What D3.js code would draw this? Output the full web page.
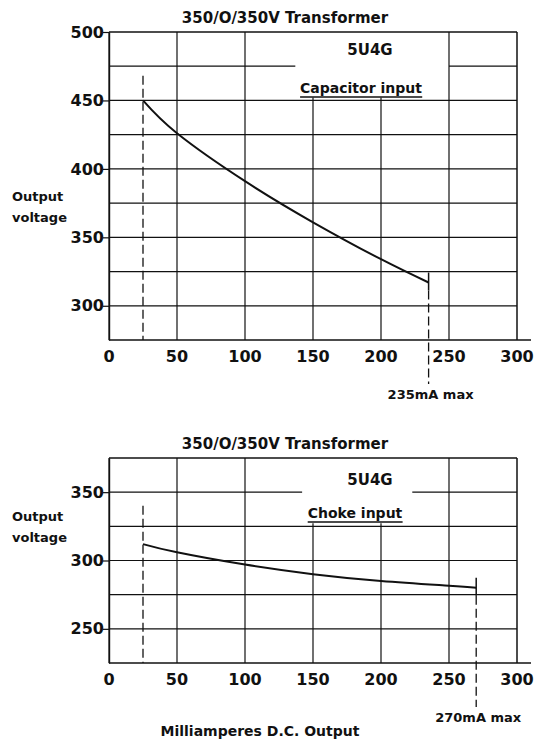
<!DOCTYPE html>
<html>
<head>
<meta charset="utf-8">
<script src="https://cdn.jsdelivr.net/npm/d3@7"></script>
<style>
  body { margin: 0; background: #fff; }
  text { font-family: "DejaVu Sans", sans-serif; fill: #111; }
</style>
</head>
<body>
<div id="chart"></div>
<script>
// values
var xTicks = [0, 50, 100, 150, 200, 250, 300];

var capTicks = [300, 350, 400, 450, 500];
var capMa = [25, 50, 100, 150, 200, 235];
var capV  = [450, 426, 391, 361, 334, 317];

var chokeTicks = [250, 300, 350];
var chokeMa = [25, 50, 100, 150, 200, 250, 270];
var chokeV  = [312, 306, 297, 290, 285, 281.5, 280];

var W = 535, H = 747;

var svg = d3.select("#chart").append("svg")
    .attr("width", W)
    .attr("height", H);

var x = d3.scaleLinear().domain([0, 300]).range([109, 517]);

function drawChart(c) {
  var y = d3.scaleLinear().domain(c.domain).range(c.range);
  var g = svg.append("g");
  var ink = "#111";

  function hline(v, a, b, w) {
    g.append("line").attr("x1", x(a)).attr("x2", x(b))
      .attr("y1", y(v)).attr("y2", y(v)).attr("stroke", ink).attr("stroke-width", w || 1.2);
  }

  // horizontal grid every 25 V
  d3.range(c.domain[0] + 25, c.domain[1], 25).forEach(function(v) {
    if (v === c.gapAt) {
      hline(v, 0, c.gap[0]);
      hline(v, c.gap[1], 300);
    } else {
      hline(v, 0, 300);
    }
  });
  // top border
  hline(c.domain[1], 0, 300, 1.6);

  // vertical grid
  xTicks.forEach(function(t) {
    var top = (t === 150 || t === 200) ? y(c.vStart) - 3 : y(c.domain[1]);
    g.append("line").attr("x1", x(t)).attr("x2", x(t))
      .attr("y1", top).attr("y2", y(c.domain[0]))
      .attr("stroke", ink).attr("stroke-width", t === 300 ? 1.5 : 1.2);
  });

  // x axis line runs a little past the frame
  g.append("line").attr("x1", x(0)).attr("x2", x(300) + 14)
    .attr("y1", y(c.domain[0])).attr("y2", y(c.domain[0]))
    .attr("stroke", ink).attr("stroke-width", 1.4);

  // y axis
  var yAxis = d3.axisLeft(y).tickValues(c.ticks).tickSize(6).tickSizeOuter(0).tickFormat(function(d) { return d; });
  var ya = g.append("g").attr("transform", "translate(" + x(0) + ",0)").call(yAxis);
  ya.select(".domain").attr("stroke", ink).attr("stroke-width", 1.4);
  ya.selectAll(".tick line").attr("stroke", ink).attr("stroke-width", 1.2);
  ya.selectAll(".tick text").attr("font-size", 16).attr("font-weight", "bold").attr("x", -5)
    .style("font-family", "DejaVu Sans").attr("fill", ink);

  // x labels
  g.selectAll(".xl").data(xTicks).enter().append("text")
    .attr("x", function(d) { return x(d); })
    .attr("y", y(c.domain[0]) + 22)
    .attr("text-anchor", "middle")
    .attr("font-size", 16).attr("font-weight", "bold")
    .text(function(d) { return d; });

  // dashed line at 25 mA
  g.append("line").attr("x1", x(25)).attr("x2", x(25))
    .attr("y1", y(c.dash25Top)).attr("y2", y(c.domain[0]))
    .attr("stroke", ink).attr("stroke-width", 1.3).attr("stroke-dasharray", "9,4");

  // curve
  var pts = c.ma.map(function(m, i) { return [m, c.v[i]]; });
  g.append("path").datum(pts)
    .attr("fill", "none").attr("stroke", ink).attr("stroke-width", 2)
    .attr("d", d3.line().x(function(d) { return x(d[0]); }).y(function(d) { return y(d[1]); }).curve(d3.curveNatural));

  // max marker: solid tick at curve end then dashed drop below the axis
  var mx = c.ma[c.ma.length - 1], mv = c.v[c.v.length - 1];
  g.append("line").attr("x1", x(mx)).attr("x2", x(mx))
    .attr("y1", y(mv) - 10).attr("y2", y(mv) + 8)
    .attr("stroke", ink).attr("stroke-width", 1.5);
  g.append("line").attr("x1", x(mx)).attr("x2", x(mx))
    .attr("y1", y(mv) + 8).attr("y2", y(c.domain[0]) + 44)
    .attr("stroke", ink).attr("stroke-width", 1.3).attr("stroke-dasharray", "9,4");
  g.append("text").attr("x", x(mx) + 2).attr("y", y(c.domain[0]) + 59)
    .attr("text-anchor", "middle").attr("font-size", 13).attr("font-weight", "bold")
    .text(c.maxLabel);

  // titles and notes
  g.append("text").attr("x", 285).attr("y", y(c.domain[1]) - 9)
    .attr("text-anchor", "middle").attr("font-size", 15).attr("font-weight", "bold")
    .text("350/O/350V Transformer");
  g.append("text").attr("x", 370).attr("y", y(c.domain[1]) + c.tagDy)
    .attr("text-anchor", "middle").attr("font-size", 15).attr("font-weight", "bold")
    .text("5U4G");
  var note = g.append("text").attr("x", c.noteX).attr("y", c.noteY)
    .attr("text-anchor", "middle").attr("font-size", 14).attr("font-weight", "bold")
    .text(c.note);
  var bb = note.node().getBBox();
  g.append("line").attr("x1", bb.x).attr("x2", bb.x + bb.width)
    .attr("y1", c.noteY + 4).attr("y2", c.noteY + 4)
    .attr("stroke", ink).attr("stroke-width", 1.5);

  g.append("text").attr("x", 12).attr("y", c.outY).attr("font-size", 13).attr("font-weight", "bold").text("Output");
  g.append("text").attr("x", 12).attr("y", c.outY + 21).attr("font-size", 13).attr("font-weight", "bold").text("voltage");
}

drawChart({
  domain: [275, 500], range: [340, 32], ticks: capTicks,
  ma: capMa, v: capV, gapAt: 475, gap: [137, 250], vStart: 450,
  dash25Top: 468, maxLabel: "235mA max", tagDy: 23,
  note: "Capacitor input", noteX: 361, noteY: 93, outY: 201
});

drawChart({
  domain: [225, 375], range: [663, 458], ticks: chokeTicks,
  ma: chokeMa, v: chokeV, gapAt: 350, gap: [142, 223], vStart: 325,
  dash25Top: 340, maxLabel: "270mA max", tagDy: 27,
  note: "Choke input", noteX: 355, noteY: 518, outY: 521
});

svg.append("text").attr("x", 260).attr("y", 736)
  .attr("text-anchor", "middle").attr("font-size", 14).attr("font-weight", "bold")
  .text("Milliamperes  D.C. Output");
</script>
</body>
</html>
